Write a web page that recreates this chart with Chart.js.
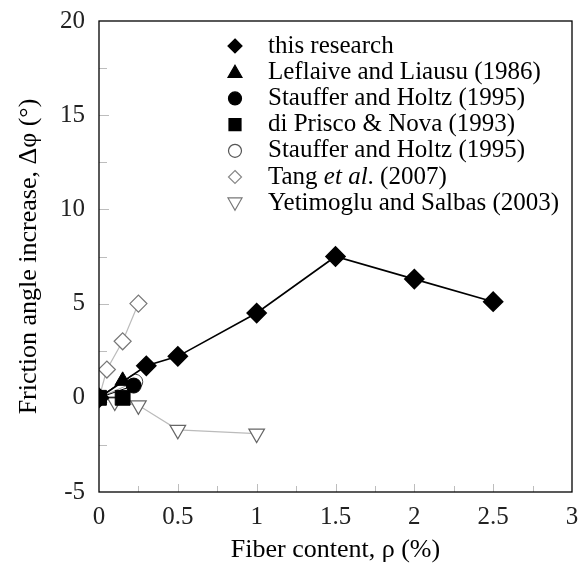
<!DOCTYPE html>
<html><head><meta charset="utf-8">
<script src="https://cdn.jsdelivr.net/npm/chart.js@4.4.0/dist/chart.umd.min.js"></script>
<style>html,body{margin:0;padding:0;background:#fff}#wrap{width:585px;height:566px}</style>
</head><body><div id="wrap"><canvas id="c" width="585" height="566"></canvas></div>
<script>
// ---- data ----
const xTickLabels = ['0','0.5','1','1.5','2','2.5','3'];
const yTickLabels = ['-5','0','5','10','15','20'];
const seriesNames = ['this research','Leflaive and Liausu (1986)','Stauffer and Holtz (1995)','di Prisco & Nova (1993)','Stauffer and Holtz (1995)','Tang et al. (2007)','Yetimoglu and Salbas (2003)'];

const researchX = [0, 0.3, 0.5, 1, 1.5, 2, 2.5];
const researchY = [0, 1.7, 2.2, 4.5, 7.5, 6.3, 5.1];
const leflaiveX = [0, 0.15];
const leflaiveY = [0, 0.9];
const staufferFilledX = [0, 0.22];
const staufferFilledY = [0, 0.65];
const priscoX = [0, 0.15];
const priscoY = [0, 0];
const staufferOpenX = [0, 0.23];
const staufferOpenY = [0, 0.85];
const tangX = [0, 0.05, 0.15, 0.25];
const tangY = [0, 1.5, 3.0, 5.0];
const yetiX = [0, 0.1, 0.25, 0.5, 1];
const yetiY = [0, -0.2, -0.4, -1.7, -1.9];

function pts(xs, ys){ return xs.map((x,i)=>({x:x, y:ys[i]})); }

const FONT = '"Liberation Serif", "Times New Roman", serif';

const legendMarkers = [
  {shape:'diamond', fill:'#000', stroke:'#000', r:7},
  {shape:'triangle', fill:'#000', stroke:'#000', r:7},
  {shape:'circle', fill:'#000', stroke:'#000', r:6.5},
  {shape:'square', fill:'#000', stroke:'#000', r:6},
  {shape:'circle', fill:'#fff', stroke:'#555', r:6.5},
  {shape:'diamond', fill:'#fff', stroke:'#888', r:6.5},
  {shape:'triangleDown', fill:'#fff', stroke:'#777', r:7}
];

function drawShape(ctx, m, x, y){
  ctx.save();
  ctx.fillStyle = m.fill; ctx.strokeStyle = m.stroke; ctx.lineWidth = 1.2;
  ctx.beginPath();
  const r = m.r;
  if (m.shape==='diamond'){ ctx.moveTo(x, y-r); ctx.lineTo(x+r, y); ctx.lineTo(x, y+r); ctx.lineTo(x-r, y); ctx.closePath(); }
  else if (m.shape==='triangle'){ ctx.moveTo(x, y-r); ctx.lineTo(x+r, y+r*0.75); ctx.lineTo(x-r, y+r*0.75); ctx.closePath(); }
  else if (m.shape==='triangleDown'){ ctx.moveTo(x, y+r); ctx.lineTo(x+r, y-r*0.75); ctx.lineTo(x-r, y-r*0.75); ctx.closePath(); }
  else if (m.shape==='circle'){ ctx.arc(x, y, r, 0, Math.PI*2); }
  else if (m.shape==='square'){ ctx.rect(x-r, y-r, 2*r, 2*r); }
  ctx.fill(); ctx.stroke();
  ctx.restore();
}

const framePlugin = {
  id: 'frame',
  beforeDatasetsDraw(chart){
    const {ctx, chartArea:a, scales} = chart;
    ctx.save();
    ctx.strokeStyle = '#bdbdbd'; ctx.lineWidth = 1;
    for (let v = 0.25; v < 3; v += 0.25){
      const px = Math.round(scales.x.getPixelForValue(v)) + 0.5;
      const major = Math.abs(v*2 - Math.round(v*2)) < 1e-6;
      ctx.beginPath(); ctx.moveTo(px, a.bottom); ctx.lineTo(px, a.bottom - (major ? 8 : 6)); ctx.stroke();
    }
    for (let v = -2.5; v < 20; v += 2.5){
      const py = Math.round(scales.y.getPixelForValue(v)) + 0.5;
      const major = Math.abs(v/5 - Math.round(v/5)) < 1e-6;
      ctx.beginPath(); ctx.moveTo(a.left, py); ctx.lineTo(a.left + (major ? 10 : 8), py); ctx.stroke();
    }
    ctx.restore();
  },
  afterDraw(chart){
    const {ctx, chartArea:a} = chart;
    ctx.save();
    ctx.strokeStyle = '#000'; ctx.lineWidth = 1.3;
    ctx.strokeRect(a.left, a.top, a.right - a.left, a.bottom - a.top);
    // legend
    const mx = a.left + 136, tx = a.left + 169;
    let y = a.top + 25;
    ctx.textBaseline = 'middle';
    ctx.fillStyle = '#000';
    chart.data.datasets.forEach((ds, i) => {
      drawShape(ctx, legendMarkers[i], mx, y);
      const label = ds.label;
      const k = label.indexOf('et al');
      ctx.fillStyle = '#000';
      if (k >= 0){
        const pre = label.slice(0, k), it = 'et al', post = label.slice(k + 5);
        let x = tx;
        ctx.font = '25px ' + FONT; ctx.fillText(pre, x, y); x += ctx.measureText(pre).width;
        ctx.font = 'italic 25px ' + FONT; ctx.fillText(it, x, y); x += ctx.measureText(it).width;
        ctx.font = '25px ' + FONT; ctx.fillText(post, x, y);
      } else {
        ctx.font = '25px ' + FONT; ctx.fillText(label, tx, y);
      }
      y += 26.2;
    });
    ctx.restore();
  }
};

const datasets = [
  {label: seriesNames[0], data: pts(researchX, researchY), borderColor:'#000', backgroundColor:'#000', borderWidth:1.6,
   pointStyle:'rectRot', pointRadius:9.5, pointBorderColor:'#000', pointBackgroundColor:'#000', order:1},
  {label: seriesNames[1], data: pts(leflaiveX, leflaiveY), borderColor:'#000', borderWidth:1,
   pointStyle:'triangle', pointRadius:9, pointBorderColor:'#000', pointBackgroundColor:'#000', order:3},
  {label: seriesNames[2], data: pts(staufferFilledX, staufferFilledY), borderColor:'#000', borderWidth:1,
   pointStyle:'circle', pointRadius:7.5, pointBorderColor:'#000', pointBackgroundColor:'#000', order:2},
  {label: seriesNames[3], data: pts(priscoX, priscoY), borderColor:'#000', borderWidth:1,
   pointStyle:'rect', pointRadius:10.5, pointBorderColor:'#000', pointBackgroundColor:'#000', order:0},
  {label: seriesNames[4], data: pts(staufferOpenX, staufferOpenY), borderColor:'#999', borderWidth:1,
   pointStyle:'circle', pointRadius:7.5, pointBorderColor:'#444', pointBackgroundColor:'#fff', order:4},
  {label: seriesNames[5], data: pts(tangX, tangY), borderColor:'#bbb', borderWidth:1.2,
   pointStyle:'rectRot', pointRadius:8.5, pointBorderColor:'#777', pointBackgroundColor:'#fff', pointBorderWidth:1.2, order:5},
  {label: seriesNames[6], data: pts(yetiX, yetiY), borderColor:'#bbb', borderWidth:1.2,
   pointStyle:'triangle', rotation:180, pointRotation:180, pointRadius:9, pointBorderColor:'#666', pointBackgroundColor:'#fff', pointBorderWidth:1.2, order:6}
];

new Chart(document.getElementById('c'), {
  type: 'line',
  data: { datasets },
  options: {
    responsive: false,
    animation: false,
    devicePixelRatio: 1,
    layout: { padding: { top: 21, right: 13, left: 0, bottom: 0 } },
    plugins: { legend: { display: false }, tooltip: { enabled: false } },
    elements: { line: { tension: 0 } },
    scales: {
      x: {
        type: 'linear', min: 0, max: 3,
        grid: { display: false, drawTicks: false },
        border: { display: false },
        ticks: { stepSize: 0.5, padding: 10, color: '#222', font: { family: FONT, size: 25 },
          maxRotation: 0, autoSkip: false,
          callback: (v, i) => xTickLabels[i] },
        title: { display: true, text: 'Fiber content, ρ (%)', color: '#000', font: { family: FONT, size: 26 }, padding: { top: 0, bottom: 0 } },
        afterFit: (s) => { s.height = 74; s.paddingLeft = 0; s.paddingRight = 0; }
      },
      y: {
        type: 'linear', min: -5, max: 20,
        grid: { display: false, drawTicks: false },
        border: { display: false },
        ticks: { stepSize: 5, padding: 14, color: '#222', font: { family: FONT, size: 25 },
          autoSkip: false,
          callback: (v, i) => yTickLabels[i] },
        title: { display: true, text: 'Friction angle increase, Δφ (°)', color: '#000', font: { family: FONT, size: 26 }, padding: { top: 14, bottom: 0 } },
        afterFit: (s) => { s.width = 99; s.paddingTop = 0; s.paddingBottom = 0; }
      }
    }
  },
  plugins: [framePlugin]
});
</script>
</body></html>
